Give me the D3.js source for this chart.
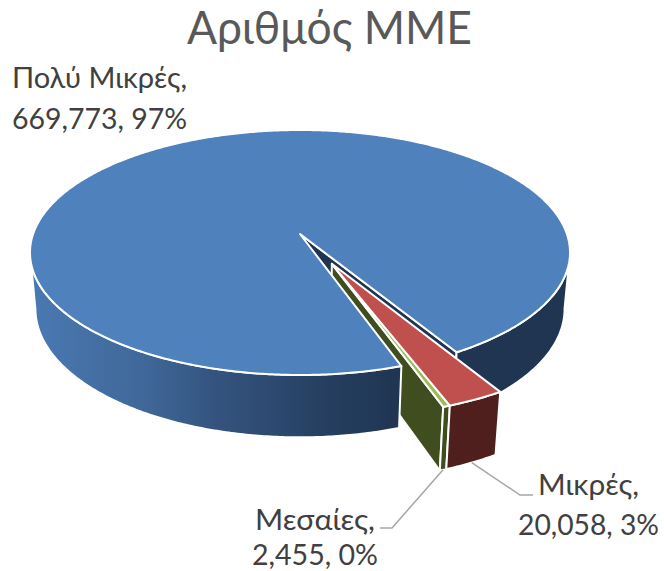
<!DOCTYPE html>
<html><head><meta charset="utf-8">
<script src="https://cdn.jsdelivr.net/npm/d3@7"></script>
<style>html,body{margin:0;padding:0;background:#fff}svg{display:block}text{font-family:Lato,"Open Sans","Noto Sans",sans-serif}</style>
</head><body>
<svg id="c" width="664" height="571"></svg>
<script>
const chartTitle = "Αριθμός ΜΜΕ";
const categories = ["Πολύ Μικρές", "Μικρές", "Μεσαίες"];
const values = [669773, 20058, 2455];
const topColors = ["#4F81BD", "#C0504D", "#9BBB59"];
const wallColors = ["#1F3552", "#4F1F1E", "#3F4D1F"];

const width = 664, height = 571;
// Projective view of a unit disc (u to the right, v toward viewer)
const view = {cx:300, cy:234, a:266.9, b:119.7, k:0.151, h:57, m:0.02};
const explode = {u:0.115, v:0.24};
const TAU = Math.PI*2;

function project(u, v, z){
  const w = 1 - view.k*v + view.m*z;
  return [view.cx + view.a*u/w, view.cy + (view.b*v + view.h*z)/w];
}
const rim = (ang, off, z) => project(Math.sin(ang)+off.u, -Math.cos(ang)+off.v, z);
const arcPts = (a0, a1, off, z) => {
  const n = Math.max(2, Math.ceil(Math.abs(a1-a0)/0.01));
  return d3.range(n+1).map(i => rim(a0+(a1-a0)*i/n, off, z));
};
const poly = d3.line().curve(d3.curveLinearClosed);

const startDeg = 161;
const arcs = d3.pie().sort(null).startAngle(startDeg*Math.PI/180).endAngle(startDeg*Math.PI/180+TAU)(values);
const none = {u:0, v:0};
const [blue, red, green] = arcs;

const svg = d3.select("#c");
const defs = svg.append("defs");
const lg = defs.append("linearGradient").attr("id","wallL").attr("gradientUnits","userSpaceOnUse")
  .attr("x1",30).attr("x2",400).attr("y1",0).attr("y2",0);
[[0,"#4A79B2"],[0.3,"#40689A"],[0.5,"#34547F"],[0.8,"#263F60"],[1,"#1F3552"]].forEach(s=>lg.append("stop").attr("offset",s[0]).attr("stop-color",s[1]));

const stroke = (sel,w=2)=>sel.attr("stroke","#fff").attr("stroke-width",w).attr("stroke-linejoin","round");
const draw = (pts, fill, w) => stroke(svg.append("path").attr("d",poly(pts)).attr("fill",fill), w);
const wall = (a0,a1,off,fill) => draw([...arcPts(a0,a1,off,0), ...arcPts(a1,a0,off,1)], fill);
// wall that runs from a cut edge out to the silhouette of the disc on its side
const sideWall = (a0,a1,off,fill,sign) => {
  const clip = pts => pts.slice(0, d3.leastIndex(pts, p => -sign*p[0]) + 1);
  const t = clip(arcPts(a0,a1,off,0)), b = clip(arcPts(a0,a1,off,1));
  draw([...t, ...b.reverse()], fill);
};
const cutWall = (ang,off,fill) => draw([project(off.u,off.v,0), rim(ang,off,0), rim(ang,off,1), project(off.u,off.v,1)], fill);
const topFace = (d,off) => {
  const p = [project(off.u,off.v,0), ...arcPts(d.startAngle,d.endAngle,off,0)];
  return draw(p, topColors[d.index]);
};

// back-to-front painter order
const blueEnd = blue.endAngle;
cutWall(blueEnd, none, wallColors[0]);                     // blue cut face behind red
sideWall(blueEnd, blueEnd - 1.5, none, wallColors[0], 1);  // right wall of blue
cutWall(green.endAngle, explode, wallColors[2]);           // olive cut face
wall(green.startAngle, green.endAngle, explode, wallColors[2]);
topFace(green, explode);
wall(red.startAngle, red.endAngle, explode, wallColors[1]);
topFace(red, explode);
sideWall(blue.startAngle, blue.startAngle + 2.2, none, "url(#wallL)", -1); // left wall
topFace(blue, none);

// Title and labels
const fmt = d3.format(","), total = d3.sum(values), pct = d3.format(".0%");
const textColor = "#404040", leader = "#A6A6A6";
svg.append("text").attr("x",187).attr("y",44).attr("textLength",285).attr("lengthAdjust","spacingAndGlyphs")
  .attr("font-size",46).attr("fill","#595959").text(chartTitle);

const labelLayout = [
  {lines:[[12,88,175],[12,129,175]]},
  {lines:[[538,495,101],[518,535,141]], elbow:[[520,495],[533,495]]},
  {lines:[[255,530,120],[252,565,126]], elbow:[[392,528],[380,528]]}
];
arcs.forEach((d,i)=>{
  const L = labelLayout[i];
  [categories[i]+",", fmt(d.value)+", "+pct(d.value/total)].forEach((s,j)=>{
    const [x,y,len] = L.lines[j];
    svg.append("text").attr("x",x).attr("y",y).attr("textLength",len).attr("lengthAdjust","spacingAndGlyphs")
      .attr("font-size",29.4).attr("fill",textColor).text(s);
  });
  if(L.elbow){
    const s = rim((d.startAngle+d.endAngle)/2, explode, 1);
    svg.append("path").attr("d",d3.line()([s,...L.elbow])).attr("fill","none").attr("stroke",leader).attr("stroke-width",1.5);
  }
});
</script>
</body></html>
